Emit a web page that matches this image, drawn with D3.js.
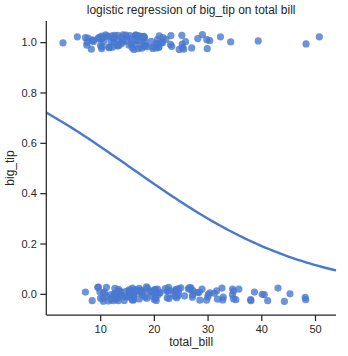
<!DOCTYPE html>
<html>
<head>
<meta charset="utf-8">
<script src="https://cdn.jsdelivr.net/npm/d3@7"></script>
<style>
  body { margin: 0; background: #fff; }
  text { font-family: "Liberation Sans", Arial, sans-serif; fill: #262626; }
</style>
</head>
<body>
<svg id="chart" width="348" height="356"></svg>
<script>
// tips dataset: total bill and tip
const total_bill = [16.99,10.34,21.01,23.68,24.59,25.29,8.77,26.88,15.04,14.78,
10.27,35.26,15.42,18.43,14.83,21.58,10.33,16.29,16.97,20.65,
17.92,20.29,15.77,39.42,19.82,17.81,13.37,12.69,21.70,19.65,
9.55,18.35,15.06,20.69,17.78,24.06,16.31,16.93,18.69,31.27,
16.04,17.46,13.94,9.68,30.40,18.29,22.23,32.40,28.55,18.04,
12.54,10.29,34.81,9.94,25.56,19.49,38.01,26.41,11.24,48.27,
20.29,13.81,11.02,18.29,17.59,20.08,16.45,3.07,20.23,15.01,
12.02,17.07,26.86,25.28,14.73,10.51,17.92,27.20,22.76,17.29,
19.44,16.66,10.07,32.68,15.98,34.83,13.03,18.28,24.71,21.16,
28.97,22.49,5.75,16.32,22.75,40.17,27.28,12.03,21.01,12.46,
11.35,15.38,44.30,22.42,20.92,15.36,20.49,25.21,18.24,14.31,
14.00,7.25,38.07,23.95,25.71,17.31,29.93,10.65,12.43,24.08,
11.69,13.42,14.26,15.95,12.48,29.80,8.52,14.52,11.38,22.82,
19.08,20.27,11.17,12.26,18.26,8.51,10.33,14.15,16.00,13.16,
17.47,34.30,41.19,27.05,16.43,8.35,18.64,11.87,9.78,7.51,
14.07,13.13,17.26,24.55,19.77,29.85,48.17,25.00,13.39,16.49,
21.50,12.66,16.21,13.81,17.51,24.52,20.76,31.71,10.59,10.63,
50.81,15.81,7.25,31.85,16.82,32.90,17.89,14.48,9.60,34.63,
34.65,23.33,45.35,23.17,40.55,20.69,20.90,30.46,18.15,23.10,
15.69,19.81,28.44,15.48,16.58,7.56,10.34,43.11,13.00,13.51,
18.71,12.74,13.00,16.40,20.53,16.47,26.59,38.73,24.27,12.76,
30.06,25.89,48.33,13.27,28.17,12.90,28.15,11.59,7.74,30.14,
12.16,13.42,8.58,15.98,13.42,16.27,10.09,20.45,13.28,22.12,
24.01,15.69,11.61,10.77,15.53,10.07,12.60,32.83,35.83,29.03,
27.18,22.67,17.82,18.78];

const tip = [1.01,1.66,3.50,3.31,3.61,4.71,2.00,3.12,1.96,3.23,
1.71,5.00,1.57,3.00,3.02,3.92,1.67,3.71,3.50,3.35,
4.08,2.75,2.23,7.58,3.18,2.34,2.00,2.00,4.30,3.00,
1.45,2.50,3.00,2.45,3.27,3.60,2.00,3.07,2.31,5.00,
2.24,2.54,3.06,1.32,5.60,3.00,5.00,6.00,2.05,3.00,
2.50,2.60,5.20,1.56,4.34,3.51,3.00,1.50,1.76,6.73,
3.21,2.00,1.98,3.76,2.64,3.15,2.47,1.00,2.01,2.09,
1.97,3.00,3.14,5.00,2.20,1.25,3.08,4.00,3.00,2.71,
3.00,3.40,1.83,5.00,2.03,5.17,2.00,4.00,5.85,3.00,
3.00,3.50,1.00,4.30,3.25,4.73,4.00,1.50,3.00,1.50,
2.50,3.00,2.50,3.48,4.08,1.64,4.06,4.29,3.76,4.00,
3.00,1.00,4.00,2.55,4.00,3.50,5.07,1.50,1.80,2.92,
2.31,1.68,2.50,2.00,2.52,4.20,1.48,2.00,2.00,2.18,
1.50,2.83,1.50,2.00,3.25,1.25,2.00,2.00,2.00,2.75,
3.50,6.70,5.00,5.00,2.30,1.50,1.36,1.63,1.73,2.00,
2.50,2.00,2.74,2.00,2.00,5.14,5.00,3.75,2.61,2.00,
3.50,2.50,2.00,2.00,3.00,3.48,2.24,4.50,1.61,2.00,
10.00,3.16,5.15,3.18,4.00,3.11,2.00,2.00,4.00,3.55,
3.68,5.65,3.50,6.50,3.00,5.00,3.50,2.00,3.50,4.00,
1.50,4.19,2.56,2.02,4.00,1.44,2.00,5.00,2.00,2.00,
4.00,2.01,2.00,2.50,4.00,3.23,3.41,3.00,2.03,2.23,
2.00,5.16,9.00,2.50,6.50,1.10,3.00,1.50,1.44,3.09,
2.20,3.48,1.92,3.00,1.58,2.50,2.00,3.00,2.72,2.88,
2.00,3.00,3.39,1.47,3.00,1.25,1.00,1.17,4.67,5.92,
2.00,2.00,1.75,3.00];

// vertical jitter of each plotted point (thousandths)
const y_jitter = [12,-18,25,-5,8,-22,3,17,-11,28,
-26,-23,9,-14,20,-2,15,-29,6,-8,
22,-16,4,5,-20,13,-27,1,18,-9,
26,-12,7,19,-24,10,-4,23,-17,2,
-21,14,-6,27,6,-13,11,21,-25,16,
-1,24,-19,8,-28,3,-23,20,-10,-23,
15,-7,29,-15,5,-22,12,-3,18,-11,
2,-26,25,-8,9,-18,22,-4,14,-20,
7,28,-13,23,-24,11,-2,17,-29,4,
19,-16,21,-9,26,-2,13,-21,6,-27,
24,-12,-30,10,-19,16,-5,27,-14,1,
20,7,-27,12,-8,25,-26,3,-17,18,
-22,9,29,-3,14,-25,6,-11,21,-18,
11,-6,26,-20,2,-27,17,-9,23,-15,
8,1,-27,-23,15,-28,28,-4,19,-12,
5,-19,22,-7,13,10,-14,24,-10,16,
-1,27,-24,9,-16,20,-5,12,-29,3,
21,-8,18,-21,25,-13,7,-26,14,-3,
19,-17,0,26,-3,11,-20,4,23,-9,
15,-25,6,-12,28,-1,17,23,-6,10,
-18,22,-4,13,-23,8,24,7,-15,20,
-11,2,-7,27,14,-19,5,-28,16,-2,
25,-14,9,-22,18,-6,12,-26,3,21,
-10,15,-20,7,26,-17,1,-24,19,30,
-13,11,-5,23];

const big_tip_threshold = 0.16;
const big_tip = total_bill.map((b, i) => (tip[i] / b > big_tip_threshold ? 1 : 0));

const xTicks = [10, 20, 30, 40, 50];
const yTicks = [0.0, 0.2, 0.4, 0.6, 0.8, 1.0];
const xDomain = [-0.03, 53.91];
const yDomain = [-0.084, 1.084];

// logistic regression fit (Newton / IRLS)
function fitLogit(xs, ys) {
  let a = 0, b = 0;
  for (let it = 0; it < 50; it++) {
    let ga = 0, gb = 0, haa = 0, hab = 0, hbb = 0;
    for (let i = 0; i < xs.length; i++) {
      const p = 1 / (1 + Math.exp(-(a + b * xs[i])));
      const r = ys[i] - p, w = p * (1 - p);
      ga += r; gb += r * xs[i];
      haa += w; hab += w * xs[i]; hbb += w * xs[i] * xs[i];
    }
    const det = haa * hbb - hab * hab;
    const da = (hbb * ga - hab * gb) / det;
    const db = (haa * gb - hab * ga) / det;
    a += da; b += db;
    if (Math.abs(da) + Math.abs(db) < 1e-10) break;
  }
  return [a, b];
}

const svg = d3.select("#chart");
const mLeft = 46.3, mRight = 336, mTop = 21, mBottom = 315;
const x = d3.scaleLinear().domain(xDomain).range([mLeft, mRight]);
const y = d3.scaleLinear().domain(yDomain).range([mBottom, mTop]);
const color = "#4878d0";
const ink = "#262626";

// points
svg.append("g").selectAll("circle")
  .data(total_bill.map((b, i) => ({ x: b, y: big_tip[i] + y_jitter[i] / 1000 })))
  .join("circle")
  .attr("cx", d => x(d.x))
  .attr("cy", d => y(d.y))
  .attr("r", 3.6)
  .attr("fill", color)
  .attr("fill-opacity", 0.8);

// fitted curve
const [ca, cb] = fitLogit(total_bill, big_tip);
const grid = d3.range(100).map(i => xDomain[0] + (xDomain[1] - xDomain[0]) * i / 99);
const line = d3.line().x(d => x(d)).y(d => y(1 / (1 + Math.exp(-(ca + cb * d)))));
svg.append("path")
  .datum(grid)
  .attr("d", line)
  .attr("fill", "none")
  .attr("stroke", color)
  .attr("stroke-width", 2.4);

// axes
const xAxis = svg.append("g").attr("transform", `translate(0,${mBottom})`)
  .call(d3.axisBottom(x).tickValues(xTicks).tickFormat(d3.format("d")).tickSize(6).tickPadding(4));
const yAxis = svg.append("g").attr("transform", `translate(${mLeft},0)`)
  .call(d3.axisLeft(y).tickValues(yTicks).tickFormat(d3.format(".1f")).tickSize(6).tickPadding(3.5));
[xAxis, yAxis].forEach(g => {
  g.select(".domain").attr("stroke", ink).attr("stroke-width", 1.25);
  g.selectAll(".tick line").attr("stroke", ink).attr("stroke-width", 1.25);
  g.selectAll(".tick text").attr("fill", ink).style("font-size", "11px")
    .style("font-family", '"Liberation Sans", Arial, sans-serif');
});
xAxis.select(".domain").attr("d", `M${mLeft},0H${mRight}`);
yAxis.select(".domain").attr("d", `M0,${mTop}V${mBottom}`);

// labels
svg.append("text").attr("x", (mLeft + mRight) / 2).attr("y", 14)
  .attr("text-anchor", "middle").style("font-size", "12px")
  .text("logistic regression of big_tip on total bill");
svg.append("text").attr("x", (mLeft + mRight) / 2).attr("y", 346)
  .attr("text-anchor", "middle").style("font-size", "12px")
  .text("total_bill");
svg.append("text").attr("transform", `translate(14,${(mTop + mBottom) / 2}) rotate(-90)`)
  .attr("text-anchor", "middle").style("font-size", "12px")
  .text("big_tip");
</script>
</body>
</html>
